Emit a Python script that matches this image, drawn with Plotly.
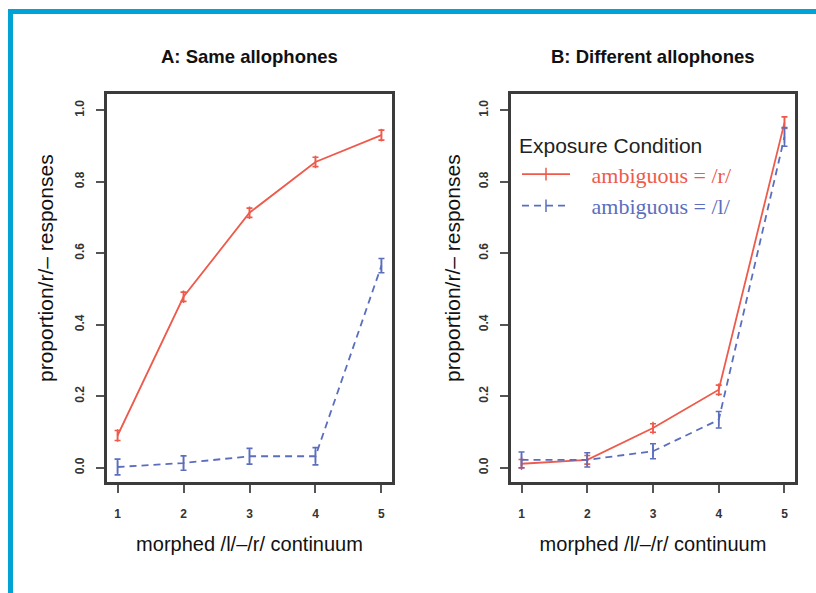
import plotly.graph_objects as go

# Continuum steps (morphed /l/ -> /r/)
steps = [1, 2, 3, 4, 5]

# Panel A: same allophones
a_r_mean = [0.09, 0.478, 0.713, 0.855, 0.93]
a_r_err = [0.014, 0.013, 0.013, 0.013, 0.014]
a_l_mean = [0.002, 0.013, 0.032, 0.032, 0.565]
a_l_err = [0.022, 0.02, 0.022, 0.024, 0.02]

# Panel B: different allophones
b_r_mean = [0.011, 0.022, 0.111, 0.218, 0.965]
b_r_err = [0.012, 0.012, 0.012, 0.013, 0.016]
b_l_mean = [0.022, 0.022, 0.046, 0.134, 0.925]
b_l_err = [0.022, 0.02, 0.021, 0.023, 0.026]

y_ticks = [0.0, 0.2, 0.4, 0.6, 0.8, 1.0]
x_ticks = [1, 2, 3, 4, 5]

RED = "#EE5A4B"
BLUE = "#5B6EBE"
FRAME = "#3b3b3b"
CYAN = "#00A3D3"

panel_titles = ["A: Same allophones", "B: Different allophones"]
x_title = "morphed /l/\u2013/r/ continuum"
y_title = "proportion/r/\u2013 responses"
legend_title = "Exposure Condition"
r_label = "ambiguous = /r/"
l_label = "ambiguous = /l/"

fig = go.Figure()

# small gap between legend sample and its label
GAP = "\u00a0\u00a0\u00a0"


def add_series(xaxis, yaxis, mean, err, color, dash, name, show):
    fig.add_trace(go.Scatter(
        x=steps, y=mean, xaxis=xaxis, yaxis=yaxis,
        mode="lines+markers",
        line=dict(color=color, width=1.8, dash=dash),
        marker=dict(symbol="line-ns", size=9, line=dict(color=color, width=1.5)),
        error_y=dict(type="data", array=err, visible=True, color=color,
                     thickness=1.6, width=3),
        name=f"{GAP}<span style='color:{color}'>{name}</span>",
        showlegend=show,
    ))


add_series("x", "y", a_r_mean, a_r_err, RED, "solid", r_label, False)
add_series("x", "y", a_l_mean, a_l_err, BLUE, "7px,5px", l_label, False)
add_series("x2", "y2", b_r_mean, b_r_err, RED, "solid", r_label, True)
add_series("x2", "y2", b_l_mean, b_l_err, BLUE, "7px,5px", l_label, True)

W, H = 816, 593
y_dom = [(H - 482) / H, (H - 94) / H]
x_doms = [[107 / W, 392 / W], [511 / W, 795 / W]]
y_title_x = [45 / W, 452 / W]

tick_font = dict(family="Liberation Sans", size=12, color="#333", weight="bold")
title_font = dict(family="Liberation Sans", size=20, color="#111")

common_x = dict(
    range=[0.84, 5.16], tickmode="array", tickvals=x_ticks,
    ticktext=[str(v) for v in x_ticks],
    ticks="outside", ticklen=8, tickwidth=1.5, tickcolor="#555",
    showline=True, mirror=True, linecolor=FRAME, linewidth=2.5,
    showgrid=False, zeroline=False, tickfont=tick_font,
    ticklabelstandoff=11,
    title=dict(text=x_title, font=title_font, standoff=17),
)
common_y = dict(
    range=[-0.04, 1.045], tickmode="array", tickvals=y_ticks,
    ticktext=[f"{v:.1f}" for v in y_ticks],
    ticks="outside", ticklen=8, tickwidth=1.5, tickcolor="#555",
    showline=True, mirror=True, linecolor=FRAME, linewidth=2.5,
    showgrid=False, zeroline=False, tickfont=tick_font, tickangle=-90,
    ticklabelstandoff=7,
)

fig.update_layout(
    width=W, height=H,
    margin=dict(l=0, r=0, t=0, b=0),
    paper_bgcolor="white", plot_bgcolor="white",
    xaxis=dict(domain=x_doms[0], anchor="y", **common_x),
    yaxis=dict(domain=y_dom, anchor="x", **common_y),
    xaxis2=dict(domain=x_doms[1], anchor="y2", **common_x),
    yaxis2=dict(domain=y_dom, anchor="x2", **common_y),
    legend=dict(
        x=517 / W, y=1 - 126 / H, xanchor="left", yanchor="top",
        bgcolor="rgba(0,0,0,0)", borderwidth=0,
        title=dict(text=legend_title,
                   font=dict(family="Liberation Sans", size=21, color="#222")),
        font=dict(family="Liberation Serif", size=22),
        itemwidth=48, tracegroupgap=0,
    ),
    showlegend=True,
)

# Panel titles and y-axis titles
for dom, text, tx in zip(x_doms, panel_titles, y_title_x):
    fig.add_annotation(
        x=(dom[0] + dom[1]) / 2, y=1 - 57 / H, xref="paper", yref="paper",
        text=f"<b>{text}</b>", showarrow=False,
        font=dict(family="Liberation Sans", size=18.5, color="#111"),
        xanchor="center", yanchor="middle",
    )
    fig.add_annotation(
        x=tx, y=1 - 268 / H, xref="paper", yref="paper",
        text=y_title, textangle=-90, showarrow=False,
        font=dict(family="Liberation Sans", size=21, color="#111"),
        xanchor="center", yanchor="middle",
    )

# Cyan frame along the top and left edges
fig.add_shape(type="rect", xref="paper", yref="paper",
              x0=8 / W, x1=1, y0=1 - 14 / H, y1=1 - 9 / H,
              fillcolor=CYAN, line=dict(width=0), layer="above")
fig.add_shape(type="rect", xref="paper", yref="paper",
              x0=8 / W, x1=13 / W, y0=0, y1=1 - 9 / H,
              fillcolor=CYAN, line=dict(width=0), layer="above")

fig.write_html("out.html")
